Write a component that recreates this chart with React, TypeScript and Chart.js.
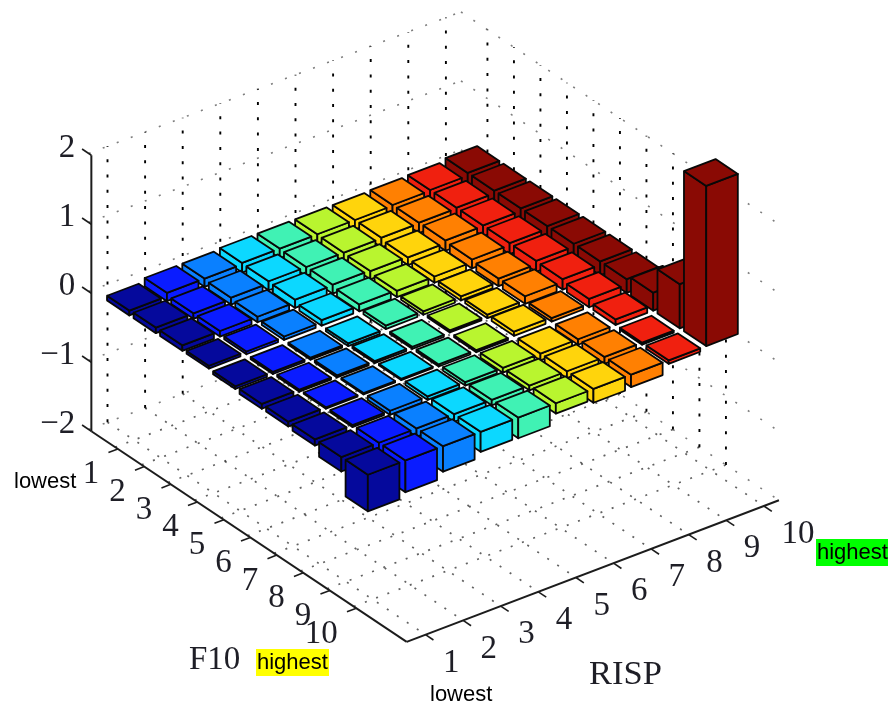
import React, { useEffect, useRef } from "react";
import { Chart, registerables } from "chart.js";

Chart.register(...registerables);

// Axis labels
const f10Ticks = [1, 2, 3, 4, 5, 6, 7, 8, 9, 10];
const rispTicks = [1, 2, 3, 4, 5, 6, 7, 8, 9, 10];
const zTicks = [2, 1, 0, -1, -2];
const zLabels = ["2", "1", "0", "\u22121", "\u22122"];

// One colour per RISP group
const rispColors = [
  "#05099c", "#0a1cff", "#0a80ff", "#0cd8ff", "#40f2b4",
  "#b9f52f", "#ffd40c", "#ff8002", "#f0200f", "#8a0a04",
];

// Bar heights: one row per F10 group, one value per RISP group
const f10Group1 = [0.07, 0.12, 0.12, 0.14, 0.14, 0.14, 0.14, 0.15, 0.16, 0.2];
const f10Group2 = [0.08, 0.08, 0.1, 0.13, 0.13, 0.13, 0.14, 0.15, 0.16, 0.2];
const f10Group3 = [0.08, 0.08, 0.08, 0.12, 0.13, 0.12, 0.11, 0.15, 0.16, 0.2];
const f10Group4 = [0.04, 0.04, 0.05, 0.08, 0.1, 0.09, 0.09, 0.13, 0.16, 0.2];
const f10Group5 = [-0.04, -0.03, -0.03, -0.04, 0.05, 0.05, 0.06, 0.11, 0.16, 0.2];
const f10Group6 = [-0.07, -0.03, -0.03, -0.03, -0.03, 0.03, 0.05, 0.11, 0.15, 0.2];
const f10Group7 = [-0.07, -0.02, -0.02, -0.02, -0.03, -0.03, 0.06, 0.05, 0.12, 0.2];
const f10Group8 = [-0.09, -0.03, -0.06, -0.05, -0.05, -0.07, -0.1, -0.08, 0.08, 0.26];
const f10Group9 = [-0.21, -0.15, -0.12, -0.11, -0.08, -0.07, -0.1, -0.1, -0.03, 0.64];
const f10Group10 = [-0.53, -0.46, -0.37, -0.29, -0.3, -0.15, -0.2, -0.18, -0.05, 2.32];
const values = [
  f10Group1, f10Group2, f10Group3, f10Group4, f10Group5,
  f10Group6, f10Group7, f10Group8, f10Group9, f10Group10,
];

// Oblique view: how one unit along each 3D axis appears on the chart's scales
const project = (f: number, r: number, z: number) => ({
  x: 134 + (f - 1) * 26.5 + (r - 1) * 37.6,
  y: 302 + (f - 1) * 17.7 - (r - 1) * 14.3 - z * 69,
});

const HALF = 0.42;
const F_MIN = 0;
const F_MAX = 12;
const R_MIN = 0.5;
const R_MAX = 10.4;
const Z_MIN = -2;
const Z_MAX = 2;

type P = { x: number; y: number };

function lineSet(points: P[], color: string, width: number, dash: number[]) {
  return {
    data: points,
    showLine: true,
    fill: false,
    pointRadius: 0,
    borderColor: color,
    borderWidth: width,
    borderDash: dash,
    borderCapStyle: "butt",
    tension: 0,
  };
}

function faceSet(points: P[], color: string) {
  return {
    data: [...points, points[0]],
    showLine: true,
    fill: "shape",
    backgroundColor: color,
    pointRadius: 0,
    borderColor: "#080808",
    borderWidth: 1.8,
    borderJoinStyle: "round",
    tension: 0,
  };
}

function buildDatasets() {
  const painted: any[] = [];
  const GRID_V = "#000000";
  const GRID_H = "rgba(40,40,40,0.6)";
  const GRID_F = "rgba(30,30,30,0.7)";
  // walls: verticals
  rispTicks.forEach((r) =>
    painted.push(lineSet([project(F_MIN, r, Z_MIN), project(F_MIN, r, Z_MAX)], GRID_V, 1.9, [3, 12.3]))
  );
  f10Ticks.forEach((f) =>
    painted.push(lineSet([project(f, R_MAX, Z_MIN), project(f, R_MAX, Z_MAX)], GRID_V, 1.9, [3, 12.3]))
  );
  // walls: horizontals
  zTicks.forEach((z) => {
    painted.push(lineSet([project(F_MIN, R_MIN, z), project(F_MIN, R_MAX, z)], GRID_H, 1.6, [2, 13]));
    painted.push(lineSet([project(F_MIN, R_MAX, z), project(F_MAX, R_MAX, z)], GRID_H, 1.6, [2, 13]));
  });
  // floor
  rispTicks.forEach((r) =>
    painted.push(lineSet([project(F_MIN, r, Z_MIN), project(F_MAX, r, Z_MIN)], GRID_F, 1.7, [2, 10]))
  );
  f10Ticks.forEach((f) =>
    painted.push(lineSet([project(f, R_MIN, Z_MIN), project(f, R_MAX, Z_MIN)], GRID_F, 1.7, [2, 10]))
  );
  // axes
  const AXIS = "#1c1c1c";
  painted.push(lineSet([project(0.1, R_MIN, Z_MIN), project(0.1, R_MIN, Z_MAX)], AXIS, 2, []));
  painted.push(lineSet([project(0.1, R_MIN, Z_MIN), project(F_MAX, R_MIN, Z_MIN)], AXIS, 2, []));
  painted.push(lineSet([project(F_MAX, R_MIN, Z_MIN), project(F_MAX, R_MAX, Z_MIN)], AXIS, 2, []));
  zTicks.forEach((z) =>
    painted.push(lineSet([project(0.1, R_MIN, z), project(-0.25, R_MIN, z)], AXIS, 1.6, []))
  );
  f10Ticks.forEach((f) =>
    painted.push(lineSet([project(f + 0.1, R_MIN, Z_MIN), project(f + 0.1, R_MIN - 0.25, Z_MIN)], AXIS, 1.6, []))
  );
  rispTicks.forEach((r) =>
    painted.push(lineSet([project(F_MAX, r, Z_MIN), project(F_MAX + 0.3, r, Z_MIN)], AXIS, 1.6, []))
  );
  // bars, far to near
  for (let r = 10; r >= 1; r--) {
    for (let f = 1; f <= 10; f++) {
      const v = values[f - 1][r - 1];
      const top = Math.max(v, 0);
      const low = Math.min(v, 0);
      const color = rispColors[r - 1];
      const f0 = f - HALF;
      const f1 = f + HALF;
      const r0 = r - HALF;
      const r1 = r + HALF;
      painted.push(faceSet([project(f0, r0, low), project(f1, r0, low), project(f1, r0, top), project(f0, r0, top)], color));
      painted.push(faceSet([project(f1, r0, low), project(f1, r1, low), project(f1, r1, top), project(f1, r0, top)], color));
      painted.push(faceSet([project(f0, r0, top), project(f1, r0, top), project(f1, r1, top), project(f0, r1, top)], color));
    }
  }
  // Chart.js paints the first dataset last
  return painted.reverse();
}

const textPlugin = {
  id: "axisText",
  afterDatasetsDraw(chart: any) {
    const { ctx, scales } = chart;
    const sx = (v: number) => scales.x.getPixelForValue(v);
    const sy = (v: number) => scales.y.getPixelForValue(v);
    const put = (t: string, x: number, y: number, align: CanvasTextAlign) => {
      ctx.textAlign = align;
      ctx.fillText(t, x, y);
    };
    ctx.save();
    ctx.textBaseline = "middle";
    ctx.fillStyle = "#1e1e26";
    ctx.font = '33px "Liberation Serif"';
    zTicks.forEach((z, i) => {
      const p = project(0.1, R_MIN, z);
      put(zLabels[i], sx(p.x) - 16, sy(p.y) - 7, "right");
    });
    f10Ticks.forEach((f) => {
      const p = project(f, R_MIN, Z_MIN);
      put(String(f), sx(p.x) - 16, sy(p.y) + 27.5, "right");
    });
    rispTicks.forEach((r) => {
      const p = project(F_MAX, r, Z_MIN);
      put(String(r), sx(p.x) + 17.5, sy(p.y) + 28.5, "left");
    });
    put("F10", sx(189), sy(660), "left");
    ctx.font = '34.5px "Liberation Serif"';
    put("RISP", sx(589), sy(675), "left");

    ctx.font = '22px "Liberation Sans"';
    ctx.fillStyle = "#ffff00";
    ctx.fillRect(sx(256), sy(649), 73, 27);
    ctx.fillStyle = "#00ff00";
    ctx.fillRect(sx(816), sy(539), 72, 27);
    ctx.fillStyle = "#000000";
    put("lowest", sx(14), sy(482), "left");
    put("lowest", sx(430), sy(695), "left");
    put("highest", sx(257), sy(663), "left");
    put("highest", sx(817), sy(553), "left");
    ctx.restore();
  },
};

export default function App() {
  const ref = useRef<HTMLCanvasElement>(null);
  useEffect(() => {
    if (!ref.current) return;
    const chart = new Chart(ref.current, {
      type: "scatter",
      data: { datasets: buildDatasets() },
      options: {
        animation: false,
        responsive: false,
        layout: { padding: 0 },
        plugins: { legend: { display: false }, tooltip: { enabled: false } },
        events: [],
        scales: {
          x: { type: "linear", min: 0, max: 888, display: false },
          y: { type: "linear", min: 0, max: 705, reverse: true, display: false },
        },
      },
      plugins: [textPlugin],
    } as any);
    return () => chart.destroy();
  }, []);
  return (
    <div style={{ position: "absolute", left: 0, top: 0, width: 888, height: 705, background: "#fff" }}>
      <canvas ref={ref} width={888} height={705} style={{ display: "block" }} />
    </div>
  );
}
